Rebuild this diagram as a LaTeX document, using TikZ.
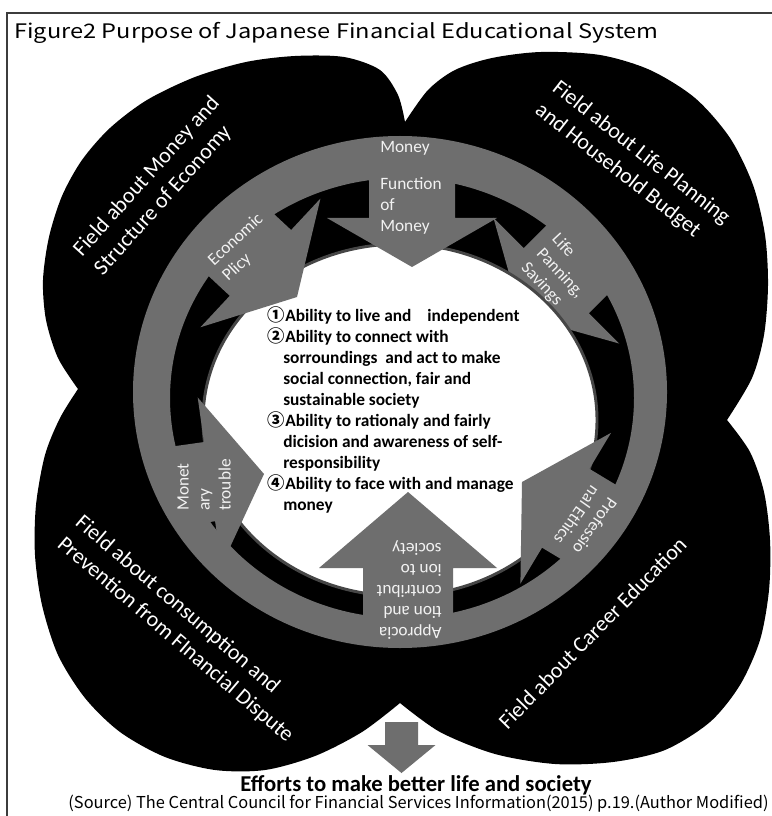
\documentclass[tikz,border=0pt]{standalone}
\usepackage{fontspec}
\setmainfont{Carlito}
\newfontfamily\jpfont{Noto Sans CJK JP}
\newfontfamily\jptitle[FakeStretch=1.18]{Noto Sans CJK JP}
\definecolor{ringgrey}{RGB}{110,110,110}
\definecolor{labelwhite}{RGB}{242,242,242}
\definecolor{shadowgrey}{RGB}{70,70,70}
\definecolor{framegrey}{RGB}{60,60,60}
% tip, angle, head length, head half width, shaft half width, total length
\newcommand{\blockarrow}[6]{%
  \fill[ringgrey,shift={#1},rotate=#2] (0,0) -- (-#3,#4) -- (-#3,#5) -- (-#6,#5) -- (-#6,-#5) -- (-#3,-#5) -- (-#3,-#4) -- cycle;}
\newcommand{\cnum}[1]{\makebox[13.5pt][l]{\jpfont #1}}
\begin{document}
\begin{tikzpicture}[x=0.75pt,y=-0.75pt,
  fieldlabel/.style={text=white,font=\fontsize{16.5}{21}\selectfont,align=left,inner sep=0pt},
  arrowlabel/.style={text=labelwhite,font=\fontsize{13}{15.75}\selectfont,align=left,inner sep=0pt}]
\useasboundingbox (0,0) rectangle (771,816);
\fill[white] (0,0) rectangle (771,816);
\draw[framegrey,line width=1.5pt] (7,830) -- (7,13) -- (790,13);
% four black lobes (one outline, clockwise from the top notch)
\fill[black] (405,122)
  -- plot[smooth] coordinates {(405,122) (428,90) (455,70) (492,58) (541,52) (600,55) (650,70) (695,98) (730,138) (753,185) (765,235) (768,285) (764,335) (752,378) (727,420)}
  -- plot[smooth] coordinates {(727,420) (750,452) (764,492) (770,540) (769,590) (760,640) (740,685) (710,722) (665,750) (613,762) (555,764) (495,754) (440,732) (400,703)}
  -- plot[smooth] coordinates {(400,703) (362,732) (315,756) (265,770) (215,770) (165,757) (120,732) (85,698) (58,655) (42,605) (35,555) (36,505) (45,455) (60,418) (78,389)}
  -- plot[smooth] coordinates {(78,389) (58,358) (46,320) (43,280) (49,237) (62,196) (82,160) (110,128) (147,100) (195,77) (246,62) (295,56) (344,57) (380,70) (398,95) (405,122)}
  -- cycle;
\fill[black] (400,392) ellipse [x radius=267,y radius=256];
% grey ring
\fill[ringgrey,even odd rule] (400,392) ellipse [x radius=267,y radius=256] (402,398) ellipse [x radius=232,y radius=220];
% arrow hidden behind the centre
\blockarrow{(521,316)}{-135}{50}{89}{46}{105}
% white centre
\fill[white,draw=shadowgrey,line width=2.2pt] (400,420) ellipse [x radius=197,y radius=176];
% inward arrows
\blockarrow{(412,267)}{-90}{49}{85}{43}{115}
\blockarrow{(297,297)}{-43}{50}{88}{45}{100}
\blockarrow{(264,474)}{8}{55}{85}{40}{95}
\blockarrow{(522,482)}{149}{51}{88}{46}{95}
\blockarrow{(408,492)}{90}{76}{89}{45}{150}
% arrow labels
\node[arrowlabel] (money) at (405,148) {Money};
\node[arrowlabel,anchor=west] (fm) at (380,206) {Function\\of\\Money};
\node[arrowlabel,anchor=west,rotate=43] (ep) at (218,271) {Economic\\Plicy};
\node[arrowlabel,anchor=west,rotate=-47] (lp) at (539,251) {Life\\Panning,\\Savings};
\node[arrowlabel,anchor=west,rotate=90] (mt) at (204,511) {Monet\\ary\\trouble};
\node[arrowlabel,anchor=west,rotate=-125] (pe) at (605,494) {Professio\\nal Ethics};
\node[arrowlabel,anchor=west,rotate=180] (ap) at (442,590) {Approcia\\tion and\\contribut\\ion to\\society};
% field labels
\node[fieldlabel,anchor=west,rotate=48] (fieldmoney) at (88,263) {Field about Money and\\Structure of Economy};
\node[fieldlabel,anchor=west,rotate=-38] (fieldlife) at (546,97) {Field about Life Planning\\and Household Budget};
\node[fieldlabel,anchor=west,rotate=-40.5] (fieldcons) at (69,531) {Field about consumption and\\Prevention from FInancial Dispute};
\node[fieldlabel,anchor=west,rotate=45.6] (fieldcareer) at (502,725) {Field about Career Education};
% abilities
\node[anchor=north west,align=left,inner sep=0pt,font=\bfseries\fontsize{13}{15.8}\selectfont] (abilities) at (267,306)
{\cnum{①}Ability to live and\hspace{9pt} independent\\
\cnum{②}Ability to connect with\\
\hspace*{12pt}sorroundings\ \ and act to make\\
\hspace*{12pt}social connection, fair and\\
\hspace*{12pt}sustainable society\\
\cnum{③}Ability to rationaly and fairly\\
\hspace*{12pt}dicision and awareness of self-\\
\hspace*{12pt}responsibility\\
\cnum{④}Ability to face with and manage\\
\hspace*{12pt}money};
% result arrow and texts
\blockarrow{(401.5,773)}{-90}{28}{34}{16.5}{51}
\node[font=\bfseries\fontsize{17}{20}\selectfont,inner sep=0pt,anchor=base] (efforts) at (416,791) {Efforts to make better life and society};
\node[font=\jpfont\fontsize{12.3}{14}\selectfont,inner sep=0pt,anchor=base] (source) at (418.5,808) {(Source) The Central Council for Financial Services Information(2015) p.19.(Author Modified)};
\node[font=\jptitle\fontsize{15}{18}\selectfont,anchor=west,inner sep=0pt] (title) at (14,33) {Figure2 Purpose of Japanese Financial Educational System};
\end{tikzpicture}
\end{document}
